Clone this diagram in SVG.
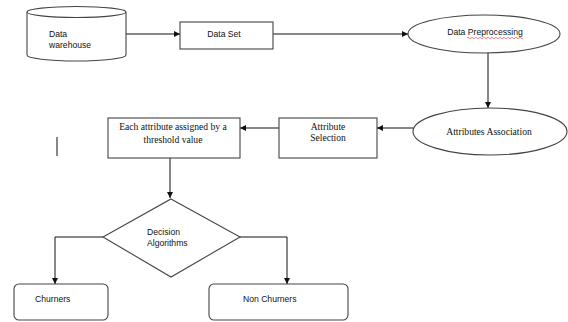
<svg xmlns="http://www.w3.org/2000/svg" width="568" height="322" viewBox="0 0 568 322">
<style>
.s{fill:#fff;stroke:#444;stroke-width:1.1}
.c{fill:none;stroke:#111;stroke-width:1}
.t{font-family:"Liberation Sans",Arial,sans-serif;font-size:8.6px;fill:#111}
.r{font-family:"Liberation Serif","Times New Roman",serif;font-size:9.6px;fill:#111}
</style>
<defs>
<marker id="a" viewBox="0 0 10 10" refX="10" refY="5" markerWidth="6" markerHeight="6" orient="auto" markerUnits="userSpaceOnUse">
<path d="M0,0 L10,5 L0,10 z" fill="#111"/>
</marker>
</defs>
<rect width="568" height="322" fill="#fff"/>
<g id="connectors">
<path class="c" d="M126,34 H180" marker-end="url(#a)"/>
<path class="c" d="M273,34 H408" marker-end="url(#a)"/>
<path class="c" d="M488,53 V108" marker-end="url(#a)"/>
<path class="c" d="M413,128 H377" marker-end="url(#a)"/>
<path class="c" d="M279,128 H240" marker-end="url(#a)"/>
<path class="c" d="M170,158 V198" marker-end="url(#a)"/>
<path class="c" d="M103,237 H55 V284" marker-end="url(#a)"/>
<path class="c" d="M240,237 H287 V284" marker-end="url(#a)"/>
<path class="c" d="M57,137 V156"/>
</g>
<g id="warehouse">
<path class="s" d="M27,12 V55 A49.5,6 0 0 0 126,55 V12"/>
<ellipse class="s" cx="76.5" cy="12" rx="49.5" ry="5.5"/>
<text class="t" x="49" y="37">Data</text>
<text class="t" x="49" y="48">warehouse</text>
</g>
<g id="dataset">
<rect class="s" x="180" y="22" width="93" height="27"/>
<text class="t" x="224" y="37" text-anchor="middle">Data Set</text>
</g>
<g id="preprocessing">
<ellipse class="s" cx="484" cy="34" rx="76" ry="19"/>
<text class="t" x="485" y="35" text-anchor="middle">Data Preprocessing</text>
<path d="M467,38 q1,-1.5 2,0 t2,0 t2,0 t2,0 t2,0 t2,0 t2,0 t2,0 t2,0 t2,0 t2,0 t2,0 t2,0 t2,0 t2,0 t2,0 t2,0 t2,0 t2,0 t2,0 t2,0 t2,0 t2,0 t2,0 t2,0 t2,0 t2,0 t2,0" fill="none" stroke="#d33" stroke-width="0.6"/>
</g>
<g id="association">
<ellipse class="s" cx="490" cy="131.5" rx="77" ry="23.5"/>
<text class="r" x="489" y="135" text-anchor="middle">Attributes Association</text>
</g>
<g id="selection">
<rect class="s" x="279" y="118" width="98" height="40"/>
<text class="r" x="328" y="130" text-anchor="middle">Attribute</text>
<text class="r" x="328" y="141" text-anchor="middle">Selection</text>
</g>
<g id="threshold">
<rect class="s" x="108" y="118" width="132" height="40"/>
<text class="r" x="173" y="130" text-anchor="middle">Each attribute assigned by a</text>
<text class="r" x="173" y="143" text-anchor="middle">threshold value</text>
</g>
<g id="decision">
<polygon class="s" points="171,199 240,237 171,277 103,237"/>
<text class="t" x="147" y="235">Decision</text>
<text class="t" x="147" y="246">Algorithms</text>
</g>
<g id="churners">
<rect class="s" x="14" y="284" width="94" height="36" rx="5"/>
<text class="t" x="35" y="302">Churners</text>
</g>
<g id="nonchurners">
<rect class="s" x="209" y="284" width="139" height="36" rx="5"/>
<text class="t" x="243" y="302">Non Churners</text>
</g>
</svg>
